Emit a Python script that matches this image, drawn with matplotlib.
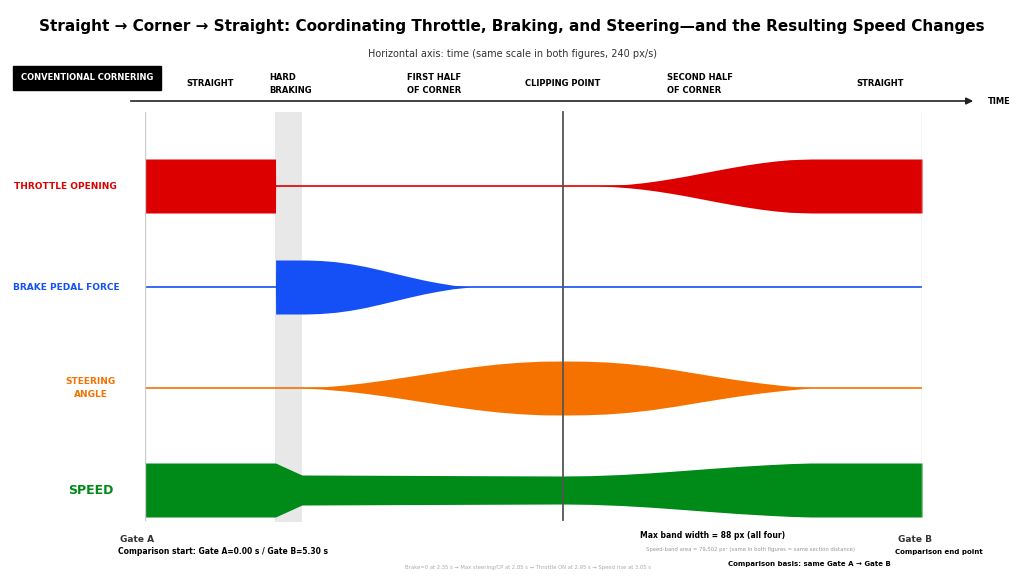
import numpy as np
import matplotlib
matplotlib.use("Agg")
import matplotlib.pyplot as plt

W, H = 1024, 576
# time (s) / half band width (px)
thr_t = [0, 0.89, 0.891, 3.1, 3.2, 3.3, 3.4, 3.5, 3.6, 3.7, 3.8, 3.9, 4.0, 4.1, 4.2, 4.3, 4.4, 4.54, 5.3]
thr_w = [27, 27, 0, 0, 0.7, 1.8, 3.3, 5.3, 7.6, 10.2, 13, 15.8, 18.5, 21, 23.2, 25, 26.3, 27, 27]
brk_t = [0.89, 0.891, 1.1, 1.2, 1.3, 1.4, 1.5, 1.6, 1.7, 1.8, 1.9, 2.0, 2.1, 2.22]
brk_w = [0, 27, 27, 26.5, 25.3, 23.3, 20.6, 17.3, 13.8, 10.3, 7, 4.2, 1.8, 0]
str_t = [1.06, 1.2, 1.35, 1.5, 1.65, 1.8, 1.95, 2.1, 2.25, 2.4, 2.55, 2.7, 2.85, 3.0, 3.15, 3.3, 3.45, 3.6,
         3.75, 3.9, 4.05, 4.2, 4.35, 4.54]
str_w = [0, 1, 2.8, 5.3, 8.3, 11.6, 15, 18.4, 21.4, 23.9, 25.7, 26.8, 27, 26.8, 26, 24.3, 21.8, 18.6,
         15, 11.4, 8, 5, 2.5, 0]
spd_t = [0, 0.89, 1.07, 2.85, 3.05, 3.25, 3.45, 3.65, 3.85, 4.05, 4.25, 4.4, 4.54, 5.3]
spd_w = [27, 27, 15, 14, 14.4, 15.5, 17.2, 19.3, 21.5, 23.6, 25.3, 26.4, 27, 27]
brake_zone = (0.89, 1.07)
clip_t = 2.85

lanes = [("THROTTLE OPENING", 186, "#dd0000", thr_t, thr_w, True),
         ("BRAKE PEDAL FORCE", 287, "#1450f5", brk_t, brk_w, True),
         ("STEERING\nANGLE", 388, "#f57200", str_t, str_w, True),
         ("SPEED", 490, "#008a17", spd_t, spd_w, False)]

fig = plt.figure(figsize=(W / 100, H / 100), dpi=100)
x0, x1, y0, y1 = 145, 922, 100, 530
ax = fig.add_axes([x0 / W, 1 - y1 / H, (x1 - x0) / W, (y1 - y0) / H])
ax.set_xlim(0, 5.3)
ax.set_ylim(y1, y0)
ax.axis("off")

ax.axvspan(*brake_zone, ymin=(y1 - 522) / (y1 - y0), ymax=(y1 - 112) / (y1 - y0), color="#e8e8e8", lw=0)
for t, c, lw in [(0, "#cccccc", 1), (5.3, "#cccccc", 1), (clip_t, "#555555", 1.3)]:
    ax.plot([t, t], [112, 520], color=c, lw=lw, zorder=3)

label_x = {"THROTTLE OPENING": 65, "BRAKE PEDAL FORCE": 66, "STEERING\nANGLE": 91, "SPEED": 91}
for name, yc, col, t, w, line in lanes:
    t = np.array(t); w = np.array(w)
    if line:
        ax.plot([0, 5.3], [yc, yc], color=col, lw=1.2, zorder=2)
    ax.fill_between(t, yc - w, yc + w, color=col, lw=0, zorder=2)
    ha = "center" if name in ("THROTTLE OPENING", "BRAKE PEDAL FORCE") else "center"
    fig.text(label_x[name] / W, 1 - yc / H, name, color=col, fontsize=9 if name == "SPEED" else 6.5,
             weight="bold", ha=ha, va="center", linespacing=1.6)

def ft(x, y, s, **kw):
    fig.text(x / W, 1 - y / H, s, **kw)

ft(512, 27, "Straight → Corner → Straight: Coordinating Throttle, Braking, and Steering—and the Resulting Speed Changes",
   ha="center", va="center", fontsize=11, weight="bold")
ft(512, 54, "Horizontal axis: time (same scale in both figures, 240 px/s)", ha="center", va="center", fontsize=7, color="#333333")
ft(87, 78, "CONVENTIONAL CORNERING", ha="center", va="center", fontsize=6, weight="bold", color="white",
   bbox=dict(boxstyle="square,pad=0.9", fc="black", ec="black"))
for x, s, ha in [(210, "STRAIGHT", "center"), (269, "HARD\nBRAKING", "left"), (407, "FIRST HALF\nOF CORNER", "left"),
                 (563, "CLIPPING POINT", "center"), (667, "SECOND HALF\nOF CORNER", "left"), (880, "STRAIGHT", "center")]:
    ft(x, 84, s, ha=ha, va="center", fontsize=6, weight="bold", linespacing=1.5)
fig.add_artist(matplotlib.patches.FancyArrowPatch((128 / W, 1 - 101 / H), (976 / W, 1 - 101 / H),
               transform=fig.transFigure, arrowstyle="-|>", mutation_scale=10, color="#222222", lw=1.2))
ft(988, 101, "TIME", ha="left", va="center", fontsize=6, weight="bold")

ft(120, 540, "Gate A", ha="left", va="center", fontsize=6.5, weight="bold", color="#333333")
ft(118, 551, "Comparison start: Gate A=0.00 s / Gate B=5.30 s", ha="left", va="center", fontsize=5.5, weight="bold")
ft(898, 540, "Gate B", ha="left", va="center", fontsize=6.5, weight="bold", color="#333333")
ft(895, 552, "Comparison end point", ha="left", va="center", fontsize=5, weight="bold")
ft(640, 535, "Max band width = 88 px (all four)", ha="left", va="center", fontsize=5.5, weight="bold")
ft(646, 550, "Speed-band area = 79,502 px² (same in both figures = same section distance)", ha="left", va="center",
   fontsize=3.8, color="#999999")
ft(728, 564, "Comparison basis: same Gate A → Gate B", ha="left", va="center", fontsize=5, weight="bold")
ft(405, 568, "Brake=0 at 2.35 s → Max steering/CP at 2.85 s → Throttle ON at 2.95 s → Speed rise at 3.05 s",
   ha="left", va="center", fontsize=3.8, color="#aaaaaa")

fig.savefig("out.png", dpi=100)
